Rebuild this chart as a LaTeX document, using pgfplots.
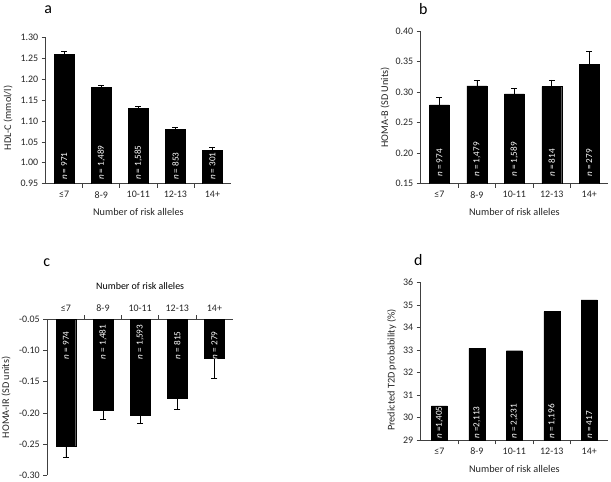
\documentclass[border=0pt]{standalone}
\usepackage{fontspec}
\setmainfont{Carlito}
\usepackage{pgfplots}
\pgfplotsset{compat=1.18}
\usepackage{pgfplotstable}

\pgfplotstableread{
x y e
0 1.260 0.006
1 1.180 0.004
2 1.130 0.004
3 1.080 0.005
4 1.030 0.008
}\dataA
\pgfplotstableread{
x y e
0 0.279 0.012
1 0.310 0.009
2 0.297 0.009
3 0.309 0.011
4 0.345 0.021
}\dataB
\pgfplotstableread{
x y e
0 -0.254 0.018
1 -0.196 0.014
2 -0.203 0.013
3 -0.177 0.017
4 -0.112 0.032
}\dataC
\pgfplotstableread{
x y
0 30.52
1 33.07
2 32.97
3 34.70
4 35.22
}\dataD

\pgfplotsset{
  every non boxed x axis/.style={},
  every non boxed y axis/.style={},
  panel/.style={
    scale only axis,
    xmin=-0.5, xmax=4.5,
    xtick={0,...,4},
    xticklabels={≤7,8-9,10-11,12-13,14+},
    minor xtick={0.5,1.5,2.5,3.5},
    major x tick style={draw=none},
    tick align=outside,
    major tick length=4bp, minor tick length=4bp,
    axis line style={-, black!75, line width=0.7pt},
    tick style={black!75, line width=0.7pt},
    ybar,
    bar width=0.53,
    ticklabel style={font=\fontsize{10}{12}\selectfont, text=black!85},
    label style={font=\fontsize{10.3}{12}\selectfont, text=black!85},
    /pgf/number format/assume math mode=true,
    error bars/error bar style={line width=0.7pt, black},
    error bars/error mark options={rotate=90, mark size=3bp, line width=0.7pt, black},
  },
}
\tikzset{
  nlab/.style={rotate=90, anchor=west, inner sep=0pt, text=white, font=\fontsize{9.2}{10}\selectfont},
  ttl/.style={inner sep=0pt, font=\fontsize{16}{18}\selectfont},
}

\begin{document}
\begin{tikzpicture}
\useasboundingbox (0bp,0bp) rectangle (611bp,-482bp);

% ---------- panel a ----------
\node[ttl] at (48.3bp,-9.2bp) {a};
\begin{axis}[panel,
  at={(45.7bp,-183.7bp)}, anchor=south west,
  width=185.3bp, height=146.4bp,
  axis x line=bottom, axis y line=left,
  ymin=0.95, ymax=1.30, ytick={0.95,1.00,...,1.31},
  yticklabel style={/pgf/number format/.cd, fixed, fixed zerofill, precision=2},
  xlabel={Number of risk alleles},
  ylabel={HDL-C (mmol/l)},
  xlabel style={at={(axis description cs:0.5,-0.193)}, anchor=center},
  ylabel style={at={(axis description cs:-0.2035,0.449)}, anchor=center, rotate=0},
]
\addplot[fill=black, draw=black,
  error bars/.cd, y dir=plus, y explicit]
  table[x=x, y=y, y error=e] {\dataA};
\node[nlab] at ([yshift=3.7bp]axis cs:0,0.95) {\textit{n} = 971};
\node[nlab] at ([yshift=3.7bp]axis cs:1,0.95) {\textit{n} = 1,489};
\node[nlab] at ([yshift=3.7bp]axis cs:2,0.95) {\textit{n} = 1,585};
\node[nlab] at ([yshift=3.7bp]axis cs:3,0.95) {\textit{n} = 853};
\node[nlab] at ([yshift=3.7bp]axis cs:4,0.95) {\textit{n} = 301};
\end{axis}

% ---------- panel b ----------
\node[ttl] at (423.3bp,-9bp) {b};
\begin{axis}[panel,
  at={(420.7bp,-183.7bp)}, anchor=south west,
  width=187.3bp, height=152.7bp,
  axis x line=bottom, axis y line=left,
  ymin=0.15, ymax=0.40, ytick={0.15,0.20,...,0.41},
  yticklabel style={/pgf/number format/.cd, fixed, fixed zerofill, precision=2},
  xlabel={Number of risk alleles},
  ylabel={HOMA-B (SD Units)},
  xlabel style={at={(axis description cs:0.5,-0.185)}, anchor=center},
  ylabel style={at={(axis description cs:-0.19,0.5)}, anchor=center, rotate=0},
]
\addplot[fill=black, draw=black,
  error bars/.cd, y dir=plus, y explicit]
  table[x=x, y=y, y error=e] {\dataB};
\node[nlab] at ([yshift=7bp]axis cs:0,0.15) {\textit{n} = 974};
\node[nlab] at ([yshift=7bp]axis cs:1,0.15) {\textit{n} = 1,479};
\node[nlab] at ([yshift=7bp]axis cs:2,0.15) {\textit{n} = 1,589};
\node[nlab] at ([yshift=7bp]axis cs:3,0.15) {\textit{n} = 814};
\node[nlab] at ([yshift=7bp]axis cs:4,0.15) {\textit{n} = 279};
\end{axis}

% ---------- panel c ----------
\node[ttl] at (46.7bp,-262.5bp) {c};
\begin{axis}[panel,
  at={(47.3bp,-475.3bp)}, anchor=south west,
  width=185.7bp, height=156bp,
  axis x line=top, axis y line=left,
  ymin=-0.30, ymax=-0.05, ytick={-0.30,-0.25,...,-0.04},
  yticklabel style={/pgf/number format/.cd, fixed, fixed zerofill, precision=2},
  xlabel={Number of risk alleles},
  ylabel={HOMA-IR (SD units)},
  xlabel style={at={(axis description cs:0.5,1.215)}, anchor=center},
  ylabel style={at={(axis description cs:-0.222,0.5)}, anchor=center, rotate=0},
]
\addplot[fill=black, draw=black,
  error bars/.cd, y dir=minus, y explicit]
  table[x=x, y=y, y error=e] {\dataC};
\node[nlab] at (axis cs:0,-0.114) {\textit{n} = 974};
\node[nlab] at (axis cs:1,-0.114) {\textit{n} = 1,481};
\node[nlab] at (axis cs:2,-0.114) {\textit{n} = 1,593};
\node[nlab] at (axis cs:3,-0.114) {\textit{n} = 815};
\node[nlab] at (axis cs:4,-0.114) {\textit{n} = 279};
\end{axis}

% ---------- panel d ----------
\node[ttl] at (418.3bp,-260.5bp) {d};
\begin{axis}[panel,
  at={(420.7bp,-440.3bp)}, anchor=south west,
  width=187.3bp, height=158bp,
  axis x line=bottom, axis y line=left,
  bar width=0.43,
  ymin=29, ymax=36, ytick={29,...,36},
  xlabel={Number of risk alleles},
  ylabel={Predicted T2D probability (\%)},
  xlabel style={at={(axis description cs:0.5,-0.182)}, anchor=center},
  ylabel style={at={(axis description cs:-0.155,0.445)}, anchor=center, rotate=0},
]
\addplot[fill=black, draw=black] table[x=x, y=y] {\dataD};
\node[nlab] at ([yshift=1.5bp]axis cs:0,29) {\textit{n} =1,405};
\node[nlab] at ([yshift=1.5bp]axis cs:1,29) {\textit{n} =2,113};
\node[nlab] at ([yshift=1.5bp]axis cs:2,29) {\textit{n} = 2,231};
\node[nlab] at ([yshift=1.5bp]axis cs:3,29) {\textit{n} = 1,196};
\node[nlab] at ([yshift=1.5bp]axis cs:4,29) {\textit{n} = 417};
\end{axis}
\end{tikzpicture}
\end{document}
